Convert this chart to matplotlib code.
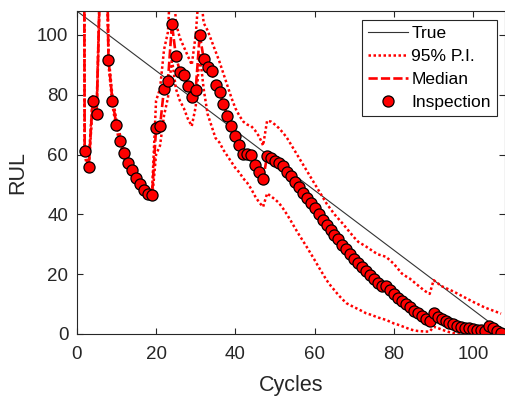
import matplotlib
matplotlib.use("Agg")
import matplotlib.pyplot as plt
import numpy as np

plt.rcParams['font.family'] = ['Liberation Sans', 'DejaVu Sans']

# cycle numbers of the inspections
cycles = np.arange(1, 108)

# median RUL prediction at each inspection (values above 108 run off the top)
median = [600, 61.1, 55.8, 78, 73.6, 125, 180, 91.7, 78, 70,
          64.6, 60.4, 57.2, 54.7, 52.2, 50.1, 48.2, 46.8, 46.6, 68.8,
          69.4, 82, 84.7, 103.6, 93, 87.7, 86.7, 83, 79.4, 81.6,
          100.1, 92.1, 89.3, 87.8, 83.3, 81, 76.9, 72.8, 69.4, 66.3,
          63.3, 60.2, 60.1, 60, 56.4, 54, 51.9, 59.4, 58.8, 58,
          57.2, 56.1, 54.2, 52.7, 50.9, 49.1, 47.3, 45.6, 43.8, 42.1,
          40, 38.2, 36.6, 34.9, 33.2, 31.6, 29.9, 28.3, 26.8, 25.2,
          23.8, 22.3, 20.9, 19.6, 18.3, 17.1, 15.9, 15.9, 14.6, 13.3,
          12.1, 11, 9.9, 8.9, 7.8, 6.9, 5.9, 5.0, 4.4, 6.9,
          5.8, 5.0, 4.3, 3.7, 3.2, 2.7, 2.4, 2.1, 1.9, 1.6,
          1.4, 1.2, 1.1, 2.5, 1.9, 0.9, 0.3]

# upper / lower 95% prediction interval
upper = [602, 62.6, 57.3, 79.5, 75.1, 126.5, 181.5, 93.2, 79.5, 71.5,
         66.1, 61.9, 58.7, 56.2, 53.7, 51.6, 49.7, 48.3, 48.1, 78,
         82, 95, 101, 128, 104, 99, 96, 93, 90, 100,
         118, 104, 101.5, 98, 94.5, 91, 87, 83, 79, 75.5,
         73, 71, 70, 69.5, 68, 66, 63, 71.3, 71, 70,
         68.8, 67.3, 65.6, 63.4, 61.2, 59, 56.8, 54.6, 52.4, 50.2,
         48, 45.8, 43.6, 41.8, 40, 38.5, 37, 35.4, 33.8, 32.2,
         30.8, 30, 29.2, 28.3, 27.4, 26.6, 26.2, 25.8, 24.6, 23.4,
         21.8, 20.2, 19.3, 18.5, 17.4, 16.3, 15.2, 14.2, 13.4, 18,
         17, 16, 15.4, 14.8, 14.2, 13.5, 12.8, 12.1, 11.4, 10.7,
         10.1, 9.4, 8.8, 8.3, 7.8, 7.3, 6.8]

lower = [598, 59.6, 54.3, 76.5, 72.1, 123.5, 178.5, 90.2, 76.5, 68.5,
         63.1, 58.9, 55.7, 53.2, 50.7, 48.6, 46.7, 45.3, 45.1, 60,
         63, 73, 79, 92, 82, 78, 75.5, 72, 69.5, 76,
         94, 82, 73.5, 69.5, 65.5, 64, 61.5, 59.5, 57.5, 55.5,
         54, 52, 50.5, 48.5, 46, 44, 42.5, 47, 46, 45,
         43.8, 42, 40, 37.8, 35.5, 33.3, 31.2, 29.1, 26.9, 24.7,
         22.4, 20.2, 18, 16.2, 14.6, 13, 11.6, 10.3, 9.6, 8.9,
         8.3, 7.6, 6.9, 6.5, 6, 5.5, 5.1, 4.7, 4.1, 3.5,
         3.1, 2.6, 2.1, 1.6, 1.2, 1.0, 0.9, 0.8, 0.8, 2.4,
         2.0, 1.5, 1.0, 0.6, 0.3, 0.1, -0.3, -0.8, -1.2, -1.6,
         -2, -2.4, -2.8, -3.2, -3.6, -4, -4.4]

# true RUL line end points
true_x = [0, 108]
true_y = [108, 0]

fig = plt.figure(figsize=(5.05, 3.99), dpi=100)
ax = fig.add_axes([0.152, 0.163, 0.848, 0.8095])

ax.plot(true_x, true_y, color='#333333', lw=0.8, label='True')
ax.plot(cycles, upper, color='red', lw=1.8, ls=(0, (1, 1)), label='95% P.I.')
ax.plot(cycles, lower, color='red', lw=1.8, ls=(0, (1, 1)))
ax.plot(cycles, median, color='red', lw=1.9, ls=(0, (3.5, 1.2)), label='Median')
ax.plot(cycles, median, 'o', mfc='red', mec='black', mew=0.9, ms=8,
        ls='none', label='Inspection')

ax.set_xlim(0, 108)
ax.set_ylim(0, 108)
ax.set_xticks([0, 20, 40, 60, 80, 100])
ax.set_yticks([0, 20, 40, 60, 80, 100])
ax.tick_params(direction='in', top=True, right=True, length=4, width=0.8,
               colors='#262626', labelsize=13.5)
ax.tick_params(axis='x', pad=9)
ax.tick_params(axis='y', pad=6)
for s in ax.spines.values():
    s.set_color('#262626')
    s.set_linewidth(0.8)
ax.set_xlabel('Cycles', fontsize=15.5, color='#262626', labelpad=8)
ax.set_ylabel('RUL', fontsize=15.5, color='#262626', labelpad=6)

leg = ax.legend(loc='upper right', bbox_to_anchor=(0.981, 0.972),
                borderaxespad=0, fontsize=12.5, handlelength=2.3,
                handletextpad=0.2, labelspacing=0.45, borderpad=0.35,
                numpoints=1, fancybox=False, framealpha=1,
                edgecolor='#262626')
leg.get_frame().set_linewidth(0.8)

fig.savefig('out.png', dpi=100)
